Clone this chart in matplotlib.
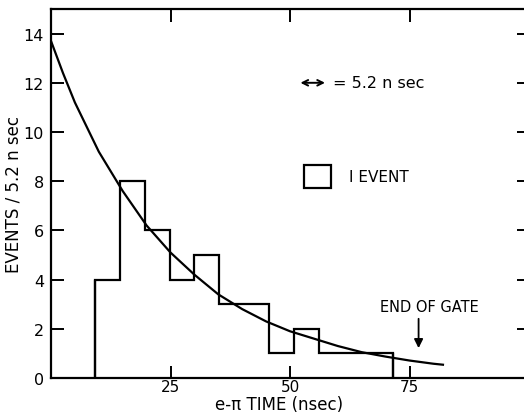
import numpy as np
from matplotlib import pyplot as plt

# histogram: bin edges (ns) and counts per 5.2 ns bin
bin_edges = [9.2, 14.4, 19.6, 24.8, 30.0, 35.2, 40.4, 45.6, 50.8, 56.0, 61.2, 66.4, 71.6]
counts = [4, 8, 6, 4, 5, 3, 3, 1, 2, 1, 1, 1]

# fitted decay curve
curve_t = [0, 2.5, 5, 7.5, 10, 12.5, 15, 17.5, 20, 22.5, 25, 30, 35, 40, 45, 50,
           55, 60, 65, 70, 75, 80, 82]
curve_n = [13.7, 12.4, 11.2, 10.2, 9.2, 8.4, 7.6, 6.9, 6.2, 5.65, 5.1, 4.2, 3.4,
           2.8, 2.3, 1.9, 1.6, 1.3, 1.05, 0.87, 0.71, 0.58, 0.54]

x_ticks = [25, 50, 75]
y_ticks = [0, 2, 4, 6, 8, 10, 12, 14]

plt.rcParams['font.family'] = ['DejaVu Sans']
fig = plt.figure(figsize=(5.24, 4.14), dpi=100)
ax = fig.add_axes([51/524, 35/414, 478/524, 369/414])

ax.stairs(counts, bin_edges, color='black', lw=1.6)
# closing vertical lines down to zero at both ends
ax.vlines([bin_edges[0], bin_edges[-1]], 0, [counts[0], counts[-1]], color='black', lw=1.6)
ax.plot(curve_t, curve_n, color='black', lw=1.6)

ax.set_xlim(0, 100)
ax.set_ylim(0, 15)
ax.set_xticks(x_ticks)
ax.set_yticks(y_ticks)
ax.tick_params(direction='in', length=9, width=1.4, labelsize=11.5,
               top=True, right=True)
ax.tick_params(axis='x', pad=1, labelsize=11)
ax.tick_params(axis='y', pad=5)
for s in ax.spines.values():
    s.set_linewidth(1.6)
# the right edge of the frame lies outside the scanned picture
ax.spines['right'].set_visible(False)

ax.set_xlabel('e-π TIME (nsec)', fontsize=12)
ax.xaxis.set_label_coords(0.478, -0.094)
ax.xaxis.label.set_va('bottom')
ax.set_ylabel('EVENTS / 5.2 n sec', fontsize=12)
ax.yaxis.set_label_coords(-0.06, 0.5)

# legend-like annotations
ax.annotate('', xy=(51.6, 12.0), xytext=(57.9, 12.0),
            arrowprops=dict(arrowstyle='<->', color='black', lw=1.4))
ax.text(59.0, 12.0, '= 5.2 n sec', fontsize=11.5, va='center')
ax.add_patch(plt.Rectangle((52.9, 7.72), 5.7, 0.94, fill=False, lw=1.6, edgecolor='black'))
ax.text(62.4, 8.2, 'I EVENT', fontsize=11, va='center')

ax.text(79.2, 2.92, 'END OF GATE', fontsize=10.5, ha='center', va='center')
ax.annotate('', xy=(76.9, 1.1), xytext=(76.9, 2.52),
            arrowprops=dict(arrowstyle='-|>', color='black', lw=1.3, mutation_scale=13))

fig.savefig('out.png', dpi=100, facecolor='white')
